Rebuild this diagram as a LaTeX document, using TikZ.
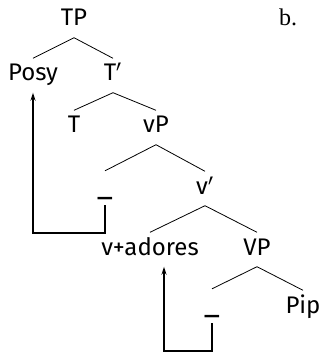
\documentclass[tikz,border=0pt]{standalone}
\usepackage{fontspec}
\setsansfont{Fira Sans}
\setmainfont{Liberation Serif}
\newfontfamily\primefont{DejaVu Sans}
\newcommand{\pr}{{\primefont\fontsize{24}{30}\selectfont\kern0.5pt\raisebox{-14pt}{\scalebox{1}[1.8]{′}}}}
\usetikzlibrary{arrows.meta}
\begin{document}
\begin{tikzpicture}[x=1pt,y=-1pt,
  lab/.style={font=\sffamily\fontsize{24}{28}\selectfont, text height=16pt, text depth=5pt, inner xsep=0pt, inner ysep=6.5pt, anchor=base},
  tr/.style={lab, font=\sffamily\fontsize{30}{34}\selectfont},
  br/.style={line width=0.8pt},
  mv/.style={line width=1.5pt, -{Stealth[length=8pt,width=5pt]}}]
\useasboundingbox (0,0) rectangle (321,352);
\node[lab] (TP) at (74,26) {TP};
\node[lab] (Posy) at (33,81) {Posy};
\node[lab] (Tbar) at (113,81) {T\pr};
\node[lab] (T) at (74,133) {T};
\node[lab] (vP) at (156,133) {vP};
\node[tr] (t1) at (105,193.5) {\raisebox{-2pt}{\_}};
\node[lab] (vbar) at (205,194) {v\pr};
\node[lab] (vad) at (150,255) {v+adores};
\node[lab] (VP) at (257,255) {VP};
\node[tr] (t2) at (212,311.5) {\raisebox{-2pt}{\_}};
\node[lab] (Pip) at (303,313) {Pip};
\node[font=\rmfamily\fontsize{24}{28}\selectfont, anchor=base] (b) at (288,26) {b.};
\draw[br] (TP.south) -- (Posy.north);
\draw[br] (TP.south) -- (Tbar.north);
\draw[br] (Tbar.south) -- (T.north);
\draw[br] (Tbar.south) -- (vP.north);
\draw[br] (vP.south) -- (t1.north);
\draw[br] (vP.south) -- (vbar.north);
\draw[br] (vbar.south) -- (vad.north);
\draw[br] (vbar.south) -- (VP.north);
\draw[br] (VP.south) -- (t2.north);
\draw[br] (VP.south) -- (Pip.north);
\draw[mv] (t1.south) -- ++(0,28) -| (Posy.south);
\draw[mv] (t2.south) -- ++(0,28) -| ([xshift=14pt]vad.south);
\end{tikzpicture}
\end{document}
